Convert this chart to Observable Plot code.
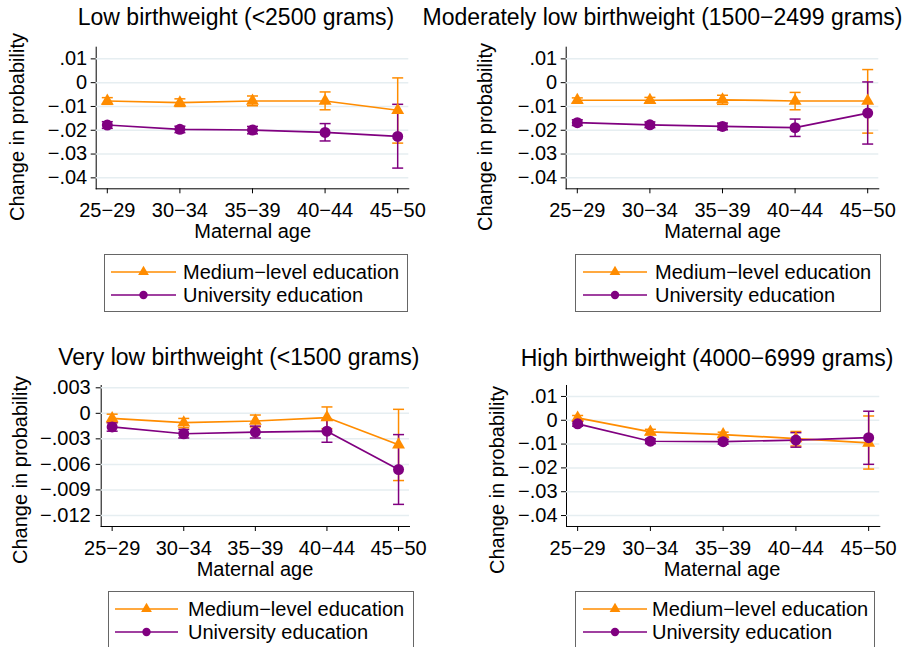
<!DOCTYPE html>
<html><head><meta charset="utf-8">
<script src="https://cdn.jsdelivr.net/npm/d3@7"></script>
<script src="https://cdn.jsdelivr.net/npm/@observablehq/plot@0.6"></script>
<style>
body{margin:0;background:#fff;}
#chart{position:relative;width:913px;height:647px;overflow:hidden;font-family:"Liberation Sans",Arial,sans-serif;color:#000;background:#fff;}
.t{position:absolute;font-size:20px;white-space:nowrap;line-height:1;}
.title{font-size:23px;}
.legend{position:absolute;border:1px solid #666;box-sizing:border-box;background:#fff;}
svg{overflow:visible;}
</style></head><body><div id="chart"></div>
<script>
// ---- data ----
const ageGroups = ["25−29","30−34","35−39","40−44","45−50"];
const seriesNames = ["Medium−level education","University education"];
const titles = ["Low birthweight (<2500 grams)","Moderately low birthweight (1500−2499 grams)","Very low birthweight (<1500 grams)","High birthweight (4000−6999 grams)"];
const yAxisTitle = "Change in probability";
const xAxisTitle = "Maternal age";
const ticksWide = [0.01, 0, -0.01, -0.02, -0.03, -0.04];
const ticksNarrow = [0.003, 0, -0.003, -0.006, -0.009, -0.012];

// Low birthweight
const lowMed   = [-0.0077, -0.0084, -0.0077, -0.0077, -0.0116];
const lowMedLo = [-0.0091, -0.0100, -0.0097, -0.0114, -0.0254];
const lowMedHi = [-0.0063, -0.0068, -0.0056, -0.0039, 0.0020];
const lowUni   = [-0.0178, -0.0196, -0.0199, -0.0209, -0.0226];
const lowUniLo = [-0.0192, -0.0210, -0.0215, -0.0245, -0.0359];
const lowUniHi = [-0.0164, -0.0183, -0.0184, -0.0172, -0.0091];
// Moderately low birthweight
const modMed   = [-0.0074, -0.0074, -0.0072, -0.0077, -0.0077];
const modMedLo = [-0.0084, -0.0086, -0.0091, -0.0114, -0.0212];
const modMedHi = [-0.0064, -0.0062, -0.0053, -0.0041, 0.0055];
const modUni   = [-0.0168, -0.0177, -0.0184, -0.0189, -0.0128];
const modUniLo = [-0.0180, -0.0189, -0.0198, -0.0226, -0.0258];
const modUniHi = [-0.0156, -0.0165, -0.0170, -0.0153, 0.0003];
// Very low birthweight
const vlowMed   = [-0.0006, -0.0011, -0.0009, -0.0005, -0.0037];
const vlowMedLo = [-0.0011, -0.0017, -0.0016, -0.0018, -0.0079];
const vlowMedHi = [-0.0001, -0.0006, -0.0002, 0.00075, 0.00047];
const vlowUni   = [-0.0016, -0.0024, -0.0022, -0.0021, -0.0066];
const vlowUniLo = [-0.0021, -0.0029, -0.0029, -0.0034, -0.0107];
const vlowUniHi = [-0.0011, -0.0019, -0.0015, -0.0008, -0.0025];
// High birthweight
const highMed   = [0.0010, -0.0049, -0.0060, -0.0077, -0.0095];
const highMedLo = [-0.0002, -0.0060, -0.0070, -0.0108, -0.0205];
const highMedHi = [0.0020, -0.0038, -0.0050, -0.0047, 0.0018];
const highUni   = [-0.0015, -0.0088, -0.0090, -0.0083, -0.0073];
const highUniLo = [-0.0025, -0.0098, -0.0100, -0.0113, -0.0185];
const highUniHi = [-0.0005, -0.0078, -0.0080, -0.0052, 0.0038];

// ---- styles ----
const ORANGE = "#ff8c00", PURPLE = "#800080", GRID = "#e6eef1";
const FONT = "'Liberation Sans', Arial, sans-serif";
const chart = document.getElementById("chart");

const fmt = v => v === 0 ? "0" : (v < 0 ? "−" : "") + String(+Math.abs(v).toFixed(4)).replace(/^0/, "");
const cap = {draw(ctx, size) { const w = Math.sqrt(size / Math.PI); ctx.moveTo(-w, 0); ctx.lineTo(w, 0); }};

function rows(est, lo, hi) {
  return ageGroups.map((a, i) => ({age: a, est: est[i], lo: lo[i], hi: hi[i]}));
}

function seriesMarks(data, color) {
  return [
    Plot.link(data, {x1: "age", x2: "age", y1: "lo", y2: "hi", stroke: color, strokeWidth: 1.5}),
    Plot.dot(data, {x: "age", y: "lo", symbol: cap, r: 5.5, stroke: color, fill: "none", strokeWidth: 1.5}),
    Plot.dot(data, {x: "age", y: "hi", symbol: cap, r: 5.5, stroke: color, fill: "none", strokeWidth: 1.5})
  ];
}

function panel(cfg) {
  const {svgLeft, svgTop, frame, yDomain, yTicks, med, uni, tickPad} = cfg;
  const mr = 4, mb = 34;
  const width = frame.r - svgLeft + mr;
  const height = frame.b - svgTop + mb;
  const p = Plot.plot({
    width, height,
    marginLeft: frame.l - svgLeft,
    marginRight: mr,
    marginTop: frame.t - svgTop,
    marginBottom: mb,
    style: {fontSize: "20px", fontFamily: FONT, background: "transparent", color: "#000", overflow: "visible"},
    x: {type: "point", domain: ageGroups, padding: 0.153, round: false, tickSize: 5, tickPadding: 9, line: true, label: null},
    y: {domain: yDomain, ticks: yTicks, tickFormat: fmt, tickSize: 5, tickPadding: tickPad, line: true, label: null},
    marks: [
      Plot.ruleY(yTicks, {stroke: GRID, strokeWidth: 1.5}),
      ...seriesMarks(med, ORANGE),
      ...seriesMarks(uni, PURPLE),
      Plot.line(med, {x: "age", y: "est", stroke: ORANGE, strokeWidth: 1.7}),
      Plot.line(uni, {x: "age", y: "est", stroke: PURPLE, strokeWidth: 1.7}),
      Plot.dot(med, {x: "age", y: "est", symbol: "triangle", r: 4.8, fill: ORANGE, stroke: "none"}),
      Plot.dot(uni, {x: "age", y: "est", symbol: "circle", r: 5.5, fill: PURPLE, stroke: "none"})
    ]
  });
  p.style.position = "absolute";
  p.style.left = svgLeft + "px";
  p.style.top = svgTop + "px";
  chart.appendChild(p);
}

function text(str, cx, cy, rot, cls) {
  const d = document.createElement("div");
  d.className = "t" + (cls ? " " + cls : "");
  d.textContent = str;
  d.style.left = cx + "px";
  d.style.top = cy + "px";
  d.style.transform = "translate(-50%,-50%)" + (rot ? " rotate(" + rot + "deg)" : "");
  chart.appendChild(d);
}

function legend(x, y, w, h, lineX0, lineX1, textX) {
  const box = document.createElement("div");
  box.className = "legend";
  Object.assign(box.style, {left: x + "px", top: y + "px", width: w + "px", height: h + "px"});
  const specs = [
    {name: seriesNames[0], color: ORANGE, symbol: "triangle", r: 4, cy: 18},
    {name: seriesNames[1], color: PURPLE, symbol: "circle", r: 4.2, cy: 40.5}
  ];
  specs.forEach(s => {
    const ns = "http://www.w3.org/2000/svg";
    const svg = document.createElementNS(ns, "svg");
    svg.setAttribute("width", lineX1 + 6); svg.setAttribute("height", 24);
    svg.style.position = "absolute"; svg.style.left = "-1px"; svg.style.top = (s.cy - 12 - 1) + "px";
    const ln = document.createElementNS(ns, "line");
    ln.setAttribute("x1", lineX0); ln.setAttribute("x2", lineX1);
    ln.setAttribute("y1", 12); ln.setAttribute("y2", 12);
    ln.setAttribute("stroke", s.color); ln.setAttribute("stroke-width", 1.7);
    svg.appendChild(ln);
    const path = document.createElementNS(ns, "path");
    const sym = s.symbol === "triangle" ? d3.symbolTriangle : d3.symbolCircle;
    path.setAttribute("d", d3.symbol(sym, Math.PI * s.r * s.r)());
    path.setAttribute("transform", `translate(${(lineX0 + lineX1) / 2},12)`);
    path.setAttribute("fill", s.color);
    svg.appendChild(path);
    box.appendChild(svg);
    const sp = document.createElement("div");
    sp.className = "t";
    sp.textContent = s.name;
    sp.style.left = (textX - 1) + "px";
    sp.style.top = (s.cy - 1) + "px";
    sp.style.transform = "translateY(-50%)";
    box.appendChild(sp);
  });
  chart.appendChild(box);
}

// ---- panels ----
panel({svgLeft: 0, svgTop: 30, frame: {l: 95.7, r: 408.3, t: 46.7, b: 188.3}, yDomain: [-0.0446, 0.0149], yTicks: ticksWide,
  med: rows(lowMed, lowMedLo, lowMedHi), uni: rows(lowUni, lowUniLo, lowUniHi), tickPad: 4});
panel({svgLeft: 470, svgTop: 30, frame: {l: 565.7, r: 878.3, t: 46.7, b: 188.3}, yDomain: [-0.0446, 0.0149], yTicks: ticksWide,
  med: rows(modMed, modMedLo, modMedHi), uni: rows(modUni, modUniLo, modUniHi), tickPad: 4});
panel({svgLeft: 0, svgTop: 370, frame: {l: 100.7, r: 409, t: 385, b: 526}, yDomain: [-0.0133, 0.00327], yTicks: ticksNarrow,
  med: rows(vlowMed, vlowMedLo, vlowMedHi), uni: rows(vlowUni, vlowUniLo, vlowUniHi), tickPad: 5.5});
panel({svgLeft: 480, svgTop: 370, frame: {l: 566, r: 879.3, t: 385, b: 526}, yDomain: [-0.0446, 0.0146], yTicks: ticksWide,
  med: rows(highMed, highMedLo, highMedHi), uni: rows(highUni, highUniLo, highUniHi), tickPad: 4});

// ---- text ----
text(titles[0], 236, 17, 0, "title");
text(titles[1], 662.5, 17, 0, "title");
text(titles[2], 238.8, 357, 0, "title");
text(titles[3], 707, 358, 0, "title");
text(yAxisTitle, 17, 126.5, -90);
text(yAxisTitle, 485, 136.5, -90);
text(yAxisTitle, 19.5, 470, -90);
text(yAxisTitle, 497, 480, -90);
text(xAxisTitle, 252.7, 231);
text(xAxisTitle, 722.6, 231);
text(xAxisTitle, 255, 568.5);
text(xAxisTitle, 722, 568.5);

// ---- legends ----
legend(104, 254, 304, 58, 7, 72, 79);
legend(575, 254, 306, 58, 8, 72, 80);
legend(108, 591, 306, 60, 7, 70, 80);
legend(575, 591, 300, 60, 8, 72, 77);
</script></body></html>
